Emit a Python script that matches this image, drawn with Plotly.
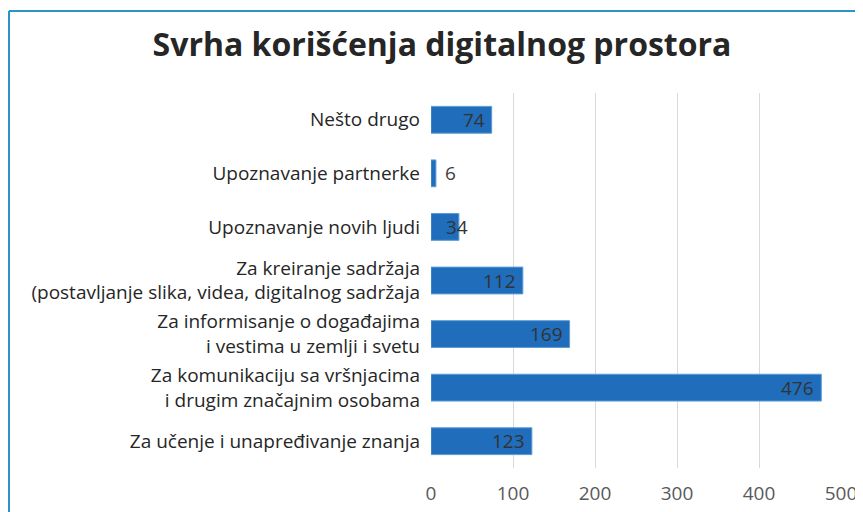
import plotly.graph_objects as go

categories = [
    "Za učenje i unapređivanje znanja",
    "Za komunikaciju sa vršnjacima<br>i drugim značajnim osobama",
    "Za informisanje o događajima<br>i vestima u zemlji i svetu",
    "Za kreiranje sadržaja<br>(postavljanje slika, videa, digitalnog sadržaja",
    "Upoznavanje novih ljudi",
    "Upoznavanje partnerke",
    "Nešto drugo",
]
values = [123, 476, 169, 112, 34, 6, 74]
tick_vals = [0, 100, 200, 300, 400, 500]

FONT = "Open Sans"

fig = go.Figure()
fig.add_trace(go.Bar(
    x=values, y=categories, orientation="h",
    marker=dict(color="#1f6dbb", line=dict(color="#5b9bd5", width=1)),
    width=0.5, hoverinfo="x+y",
))

annotations = []
for v, c in zip(values, categories):
    if v < 20:
        annotations.append(dict(x=v, y=c, text=str(v), showarrow=False, xanchor="left", xshift=7,
                                font=dict(family=FONT, size=19, color="#404040")))
    elif v < 50:
        annotations.append(dict(x=v, y=c, text=str(v), showarrow=False, xanchor="center", xshift=-2,
                                font=dict(family=FONT, size=19, color="#333333")))
    else:
        annotations.append(dict(x=v, y=c, text=str(v), showarrow=False, xanchor="right", xshift=-5,
                                font=dict(family=FONT, size=19, color="#333333")))

# page body has an 8px margin, so the figure is drawn 8px in from the top-left corner
W, H = 855, 504
fig.update_layout(
    width=W, height=H,
    margin=dict(l=423, r=22, t=85, b=H - 460),
    paper_bgcolor="white", plot_bgcolor="white",
    title=dict(text="<b>Svrha korišćenja digitalnog prostora</b>", x=434 / W, xanchor="center",
               y=1 - 37 / H, yanchor="middle", yref="container",
               font=dict(family=FONT, size=32, color="#262626")),
    xaxis=dict(range=[0, 500], tickvals=tick_vals, showgrid=True, gridcolor="#d9d9d9", gridwidth=1,
               zeroline=False, showline=False, ticks="", ticklabelstandoff=12, automargin=False,
               tickfont=dict(family=FONT, size=19, color="#595959")),
    yaxis=dict(showgrid=False, zeroline=False, showline=False, ticks="", ticklabelstandoff=10,
               automargin=False,
               tickfont=dict(family=FONT, size=19, color="#262626")),
    annotations=annotations,
    showlegend=False,
    shapes=[
        dict(type="line", xref="paper", yref="paper", x0=(9 - 431) / 410, x1=(870 - 431) / 410,
             y0=(468 - 11) / 375, y1=(468 - 11) / 375, line=dict(color="#2a93c8", width=2)),
        dict(type="line", xref="paper", yref="paper", x0=(9 - 431) / 410, x1=(9 - 431) / 410,
             y0=(468 - 11) / 375, y1=(468 - 520) / 375, line=dict(color="#2a93c8", width=2)),
    ],
)

fig.write_html("out.html")
